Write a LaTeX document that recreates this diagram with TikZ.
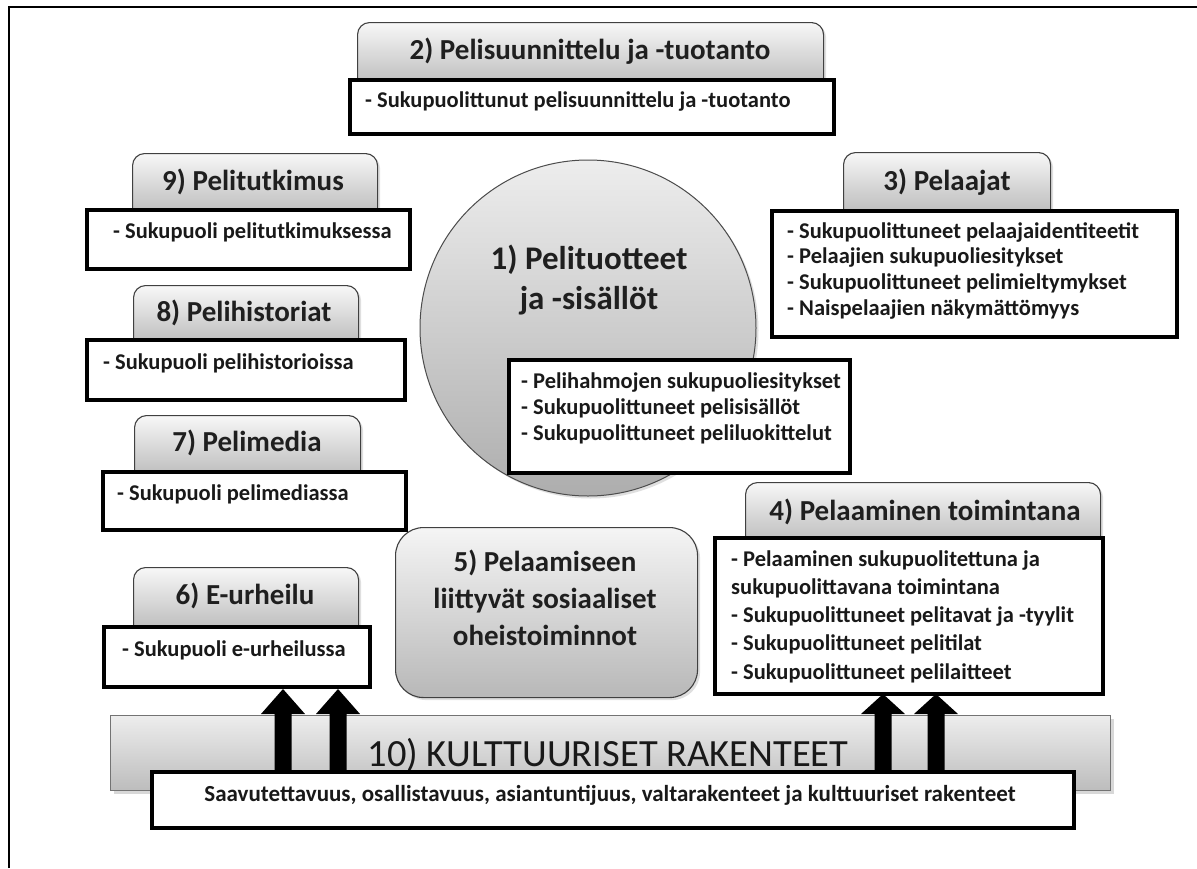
\documentclass[tikz,border=0pt]{standalone}
\usepackage{fontspec}
\setmainfont{Carlito}
\usetikzlibrary{shadows}
\tikzset{
  tab/.style={draw=black!75, line width=1.1pt, rounded corners=12pt, top color=white!97!black, bottom color=black!32, inner sep=0pt},
  rbox/.style={draw=black!75, line width=1.1pt, rounded corners=28pt, top color=white!96!black, bottom color=black!28, inner sep=0pt},
  bar/.style={draw=black!55, line width=0.8pt, top color=white!93!black, bottom color=black!26, inner sep=0pt},
  body/.style={draw=black, line width=3.8pt, fill=white, inner sep=0pt},
  shad/.style={drop shadow={shadow xshift=2.5pt, shadow yshift=-2.5pt, opacity=0.25}},
  hdr/.style={font=\bfseries\fontsize{29}{34}\selectfont, text=black!88, inner sep=0pt},
  txt/.style={font=\bfseries\fontsize{22.5}{27}\selectfont, text=black!90, inner sep=0pt, align=left},
  blk/.style={fill=black},
}
\begin{document}
\begin{tikzpicture}[x=1pt,y=-1pt]
\useasboundingbox (0,0) rectangle (1197,868);
\fill[white] (0,0) rectangle (1197,868);
% frame
\draw[line width=2.6pt] (9,868) -- (9,7) -- (1197,7);

% 2) header + body
\node[tab, shad, minimum width=466pt, minimum height=78pt, anchor=north west] (t2) at (357,22) {};
\node[hdr] (t2h) at (590,51) {2) Pelisuunnittelu ja -tuotanto};
\node[body, minimum width=484pt, minimum height=54pt, anchor=north west] (b2) at (348,78) {};
\node[txt, anchor=west] (b2t) at (365,102) {- Sukupuolittunut pelisuunnittelu ja -tuotanto};

% 9)
\node[tab, shad, minimum width=245pt, minimum height=75pt, anchor=north west] (t9) at (132,153) {};
\node[hdr] (t9h) at (253,182) {9) Pelitutkimus};
\node[body, minimum width=323pt, minimum height=59pt, anchor=north west] (b9) at (85,208) {};
\node[txt, anchor=west] (b9t) at (113,232) {- Sukupuoli pelitutkimuksessa};

% 8)
\node[tab, shad, minimum width=225pt, minimum height=73pt, anchor=north west] (t8) at (133,285) {};
\node[hdr] (t8h) at (244,313) {8) Pelihistoriat};
\node[body, minimum width=318pt, minimum height=60pt, anchor=north west] (b8) at (85,338) {};
\node[txt, anchor=west] (b8t) at (103,363) {- Sukupuoli pelihistorioissa};

% 7)
\node[tab, shad, minimum width=226pt, minimum height=75pt, anchor=north west] (t7) at (134,415) {};
\node[hdr] (t7h) at (247,443) {7) Pelimedia};
\node[body, minimum width=303pt, minimum height=58pt, anchor=north west] (b7) at (101,470) {};
\node[txt, anchor=west] (b7t) at (117,494) {- Sukupuoli pelimediassa};

% 6)
\node[tab, shad, minimum width=225pt, minimum height=78pt, anchor=north west] (t6) at (133,567) {};
\node[hdr] (t6h) at (245,596) {6) E-urheilu};
\node[body, minimum width=266pt, minimum height=60pt, anchor=north west] (b6) at (102,625) {};
\node[txt, anchor=west] (b6t) at (122,650) {- Sukupuoli e-urheilussa};

% 1) circle
\node[circle, shad, draw=black!70, line width=1pt, minimum size=336pt, top color=white!93!black, bottom color=black!32, inner sep=0pt] (c1) at (588,328) {};
\node[font=\bfseries\fontsize{33}{40}\selectfont, text=black!88, align=center, inner sep=0pt] (c1t) at (589,280) {1) Pelituotteet\\ja -sisällöt};
\node[body, minimum width=341pt, minimum height=113pt, anchor=north west] (b1) at (507,358) {};
\node[txt, anchor=north west, font=\bfseries\fontsize{22.5}{26}\selectfont] (b1t) at (521,370) {\strut- Pelihahmojen sukupuoliesitykset\\- Sukupuolittuneet pelisisällöt\\- Sukupuolittuneet peliluokittelut};

% 3)
\node[tab, shad, minimum width=207pt, minimum height=75pt, anchor=north west] (t3) at (843,152) {};
\node[hdr] (t3h) at (947,182) {3) Pelaajat};
\node[body, minimum width=405pt, minimum height=126pt, anchor=north west] (b3) at (770,209) {};
\node[txt, anchor=north west, font=\bfseries\fontsize{22.5}{25.7}\selectfont] (b3t) at (787,220) {\strut- Sukupuolittuneet pelaajaidentiteetit\\- Pelaajien sukupuoliesitykset\\- Sukupuolittuneet pelimieltymykset\\- Naispelaajien näkymättömyys};

% 5)
\node[rbox, shad, minimum width=302pt, minimum height=170pt, anchor=north west] (b5) at (395,527) {};
\node[font=\bfseries\fontsize{29}{37}\selectfont, text=black!88, align=center, inner sep=0pt] (b5t) at (545,598) {5) Pelaamiseen\\liittyvät sosiaaliset\\oheistoiminnot};

% 4)
\node[tab, shad, minimum width=355pt, minimum height=75pt, anchor=north west] (t4) at (745,482) {};
\node[hdr] (t4h) at (925,512) {4) Pelaaminen toimintana};
\node[body, minimum width=388pt, minimum height=156pt, anchor=north west] (b4) at (713,536) {};
\node[txt, anchor=north west, font=\bfseries\fontsize{22.5}{28.3}\selectfont] (b4t) at (731,546) {\strut- Pelaaminen sukupuolitettuna ja\\sukupuolittavana toimintana\\- Sukupuolittuneet pelitavat ja -tyylit\\- Sukupuolittuneet pelitilat\\- Sukupuolittuneet pelilaitteet};

% 10) bar
\node[bar, drop shadow={shadow xshift=4pt, shadow yshift=-4pt, opacity=0.3}, minimum width=1000pt, minimum height=75pt, anchor=north west] (k10) at (110,715) {};
\node[font=\fontsize{38.5}{44}\selectfont, text=black!90, inner sep=0pt] (k10t) at (608,755) {10) KULTTUURISET RAKENTEET};

% arrows
\foreach \ax/\ty in {283/689, 338/689, 883/694, 936/694}{
  \fill[blk] (\ax-8.5,772) -- (\ax-8.5,714) -- (\ax-22,714) -- (\ax,\ty) -- (\ax+22,714) -- (\ax+8.5,714) -- (\ax+8.5,772) -- cycle;
}

% bottom box
\node[body, minimum width=922pt, minimum height=56pt, anchor=north west] (b10) at (150,770) {};
\node[txt, anchor=center, font=\bfseries\fontsize{23}{27}\selectfont] (b10t) at (610,795) {Saavutettavuus, osallistavuus, asiantuntijuus, valtarakenteet ja kulttuuriset rakenteet};
\end{tikzpicture}
\end{document}
